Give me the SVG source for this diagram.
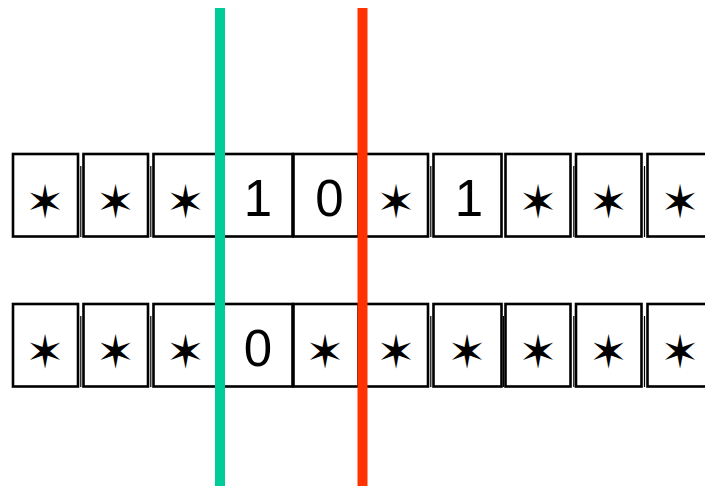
<svg xmlns="http://www.w3.org/2000/svg" width="705" height="486" viewBox="0 0 705 486">
<style>
.box{fill:#fff;stroke:#000;stroke-width:2.6}
.tick{stroke:#000;stroke-width:1.2}
.star{font-family:"DejaVu Sans",sans-serif;font-size:46px;text-anchor:middle;fill:#000}
.dig{font-family:"Liberation Sans",Arial,sans-serif;font-size:51px;text-anchor:middle;fill:#000}
</style>
<rect width="705" height="486" fill="#fff"/>
<g id="row1">
<g id="r1c1"><rect class="box" x="13" y="154" width="65" height="82.5"/><text class="star" x="45" y="217.5">✶</text></g>
<g id="r1c2"><rect class="box" x="83.5" y="154" width="64.5" height="82.5"/><text class="star" x="115.5" y="217.5">✶</text></g>
<g id="r1c3"><rect class="box" x="153.5" y="154" width="66" height="82.5"/><text class="star" x="185.5" y="217.5">✶</text></g>
<g id="r1c4"><rect class="box" x="223.5" y="154" width="69" height="82.5"/><text class="dig" x="258" y="216">1</text></g>
<g id="r1c5"><rect class="box" x="293.5" y="154" width="65" height="82.5"/><text class="dig" x="329.5" y="216">0</text></g>
<g id="r1c6"><rect class="box" x="363.5" y="154" width="64.5" height="82.5"/><text class="star" x="396" y="217.5">✶</text></g>
<g id="r1c7"><rect class="box" x="433.5" y="154" width="68" height="82.5"/><text class="dig" x="469" y="216">1</text></g>
<g id="r1c8"><rect class="box" x="505.5" y="154" width="65" height="82.5"/><text class="star" x="538" y="217.5">✶</text></g>
<g id="r1c9"><rect class="box" x="576" y="154" width="65.5" height="82.5"/><text class="star" x="608.5" y="217.5">✶</text></g>
<g id="r1c10"><rect class="box" x="647.5" y="154" width="65" height="82.5"/><text class="star" x="680" y="217.5">✶</text></g>
</g>
<g id="row2">
<g id="r2c1"><rect class="box" x="13" y="304" width="65" height="82.5"/><text class="star" x="45" y="367.5">✶</text></g>
<g id="r2c2"><rect class="box" x="83.5" y="304" width="64.5" height="82.5"/><text class="star" x="115.5" y="367.5">✶</text></g>
<g id="r2c3"><rect class="box" x="153.5" y="304" width="66" height="82.5"/><text class="star" x="185.5" y="367.5">✶</text></g>
<g id="r2c4"><rect class="box" x="223.5" y="304" width="69" height="82.5"/><text class="dig" x="258" y="366">0</text></g>
<g id="r2c5"><rect class="box" x="293.5" y="304" width="65" height="82.5"/><text class="star" x="325" y="367.5">✶</text></g>
<g id="r2c6"><rect class="box" x="363.5" y="304" width="64.5" height="82.5"/><text class="star" x="396" y="367.5">✶</text></g>
<g id="r2c7"><rect class="box" x="433.5" y="304" width="68" height="82.5"/><text class="star" x="467" y="367.5">✶</text></g>
<g id="r2c8"><rect class="box" x="505.5" y="304" width="65" height="82.5"/><text class="star" x="538" y="367.5">✶</text></g>
<g id="r2c9"><rect class="box" x="576" y="304" width="65.5" height="82.5"/><text class="star" x="608.5" y="367.5">✶</text></g>
<g id="r2c10"><rect class="box" x="647.5" y="304" width="65" height="82.5"/><text class="star" x="680" y="367.5">✶</text></g>
</g>
<g id="gaps">
<path class="tick" d="M80.8 166V237M150.8 166V237M430.8 166V237M573.8 166V237M644.5 166V237M80.8 316V387M150.8 316V387M430.8 316V387M503.5 316V387M573.8 316V387M644.5 316V387"/>
</g>
<g id="connectors">
<line x1="220" y1="8" x2="220" y2="486" stroke="#00CC99" stroke-width="10"/>
<line x1="362.5" y1="8" x2="362.5" y2="486" stroke="#FF3300" stroke-width="10"/>
</g>
</svg>
